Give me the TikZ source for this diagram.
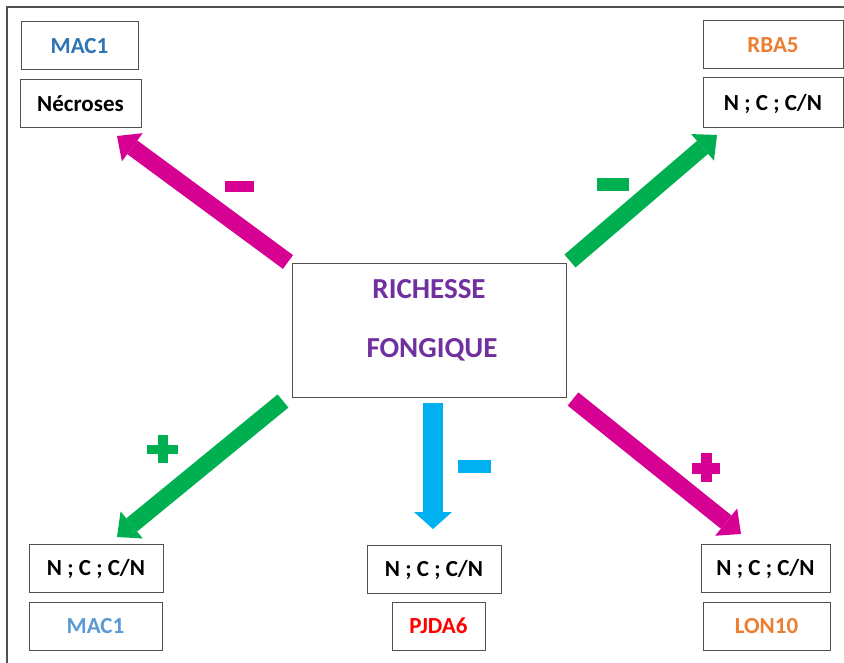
\documentclass[tikz,border=0pt]{standalone}
\usepackage{fontspec}
\setmainfont{Carlito}
\usetikzlibrary{arrows.meta}
\definecolor{mag}{RGB}{214,0,147}
\definecolor{grn}{RGB}{0,176,80}
\definecolor{lblue}{RGB}{0,176,240}
\definecolor{purp}{RGB}{112,48,160}
\definecolor{orng}{RGB}{237,125,49}
\definecolor{bluetop}{RGB}{46,117,182}
\definecolor{bluebot}{RGB}{91,155,213}
\definecolor{redc}{RGB}{255,0,0}
\definecolor{boxline}{RGB}{80,80,80}
\begin{document}
\begin{tikzpicture}[x=1pt,y=-1pt,
  box/.style={draw=boxline,line width=1pt,rectangle,inner sep=0pt,
    minimum height=48pt,text height=15pt,text depth=0pt,
    font=\fontsize{23}{27}\selectfont\bfseries},
  ctext/.style={inner sep=0pt,anchor=base,text=purp,
    font=\fontsize{29}{34}\selectfont\bfseries},
  bigarrow/.style={line width=17pt,line cap=butt,
    -{Triangle[length=19pt,width=35pt,line width=0pt]}},
  signbar/.style={inner sep=0pt,minimum width=29pt,minimum height=11pt,draw=none},
  plusbar/.style={inner sep=0pt,draw=none}
]
\useasboundingbox (0,0) rectangle (844,663);
\fill[white] (0,0) rectangle (844,663);
% outer frame
\draw[boxline,line width=1.2pt] (7,663) -- (7,7) -- (844,7);

% nodes
\node[box,minimum width=117pt,text=bluetop] (mac1top) at (79.5,46) {MAC1};
\node[box,minimum width=121pt] (necroses) at (80.5,104) {Nécroses};
\node[box,minimum width=140pt,text=orng] (rba5) at (773,45) {RBA5};
\node[box,minimum width=140pt,minimum height=50pt] (ncnTR) at (773,103) {N ; C ; C/N};
\node[draw=boxline,line width=1pt,rectangle,minimum width=274pt,minimum height=133pt,inner sep=0pt] (center) at (429,330.5) {};
\node[ctext] (rich) at (429,299) {RICHESSE};
\node[ctext] (fong) at (432,357) {FONGIQUE};
\node[box,minimum width=134pt] (ncnBL) at (96,568) {N ; C ; C/N};
\node[box,minimum width=133pt,text=bluebot] (mac1bot) at (95.5,626) {MAC1};
\node[box,minimum width=134pt] (ncnBC) at (434,569) {N ; C ; C/N};
\node[box,minimum width=93pt,text=redc] (pjda6) at (438.5,626) {PJDA6};
\node[box,minimum width=129pt] (ncnBR) at (765.5,568) {N ; C ; C/N};
\node[box,minimum width=127pt,text=orng] (lon10) at (766.5,626) {LON10};

% arrow end points
\coordinate (tTL) at (288,262);
\coordinate (hTL) at (117,136);
\coordinate (tTR) at (570,261);
\coordinate (hTR) at (717,135);
\coordinate (tBL) at (283,401);
\coordinate (hBL) at (117,537);
\coordinate (tBR) at (573,399);
\coordinate (hBR) at (741,534);
\coordinate (tBC) at (433,403);
\coordinate (hBC) at (433,529);

\draw[bigarrow,mag] (tTL) -- (hTL);
\draw[bigarrow,grn] (tTR) -- (hTR);
\draw[bigarrow,grn] (tBL) -- (hBL);
\draw[bigarrow,mag] (tBR) -- (hBR);
\draw[line width=20pt,line cap=butt,lblue,
  -{Triangle[length=17pt,width=38pt,line width=0pt]}] (tBC) -- (hBC);

% signs
\node[signbar,fill=mag] (minusTL) at (239.5,186.5) {};
\node[signbar,fill=grn,minimum width=32pt,minimum height=13pt] (minusTR) at (613,185) {};
\node[signbar,fill=lblue,minimum width=33pt,minimum height=13pt] (minusBC) at (474.5,466.5) {};
\node[plusbar,fill=grn,minimum width=31pt,minimum height=9.5pt] (plusBLh) at (162.5,449.5) {};
\node[plusbar,fill=grn,minimum width=10pt,minimum height=28pt] (plusBLv) at (163,449) {};
\node[plusbar,fill=mag,minimum width=28pt,minimum height=11pt] (plusBRh) at (706,468) {};
\node[plusbar,fill=mag,minimum width=11pt,minimum height=29pt] (plusBRv) at (706.5,467.5) {};
\end{tikzpicture}
\end{document}
